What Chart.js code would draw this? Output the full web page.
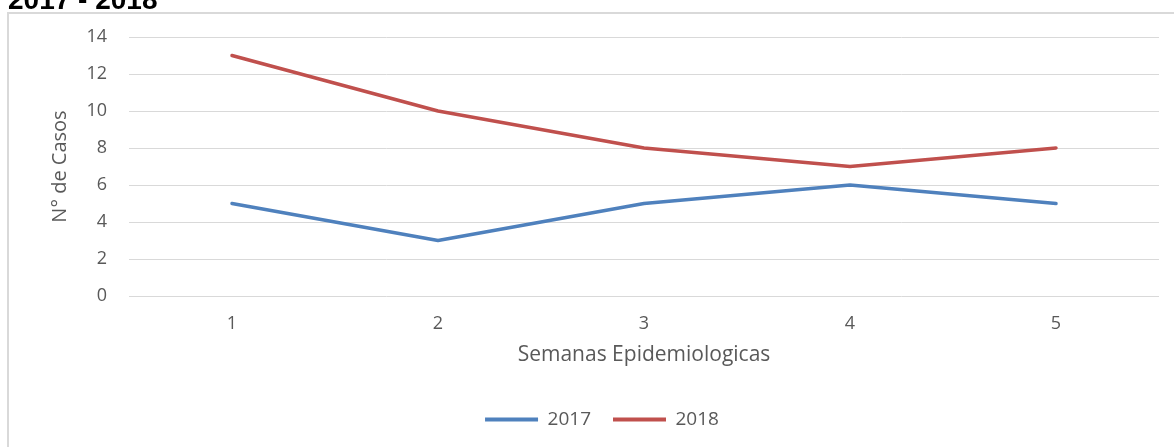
<!DOCTYPE html>
<html>
<head>
<meta charset="utf-8">
<script src="https://cdn.jsdelivr.net/npm/chart.js@4/dist/chart.umd.min.js"></script>
<style>
html,body{margin:0;padding:0;background:#fff;}
#wrap{position:relative;width:1174px;height:447px;}
</style>
</head>
<body>
<div id="wrap"><canvas id="c" width="1174" height="447"></canvas></div>
<script>
const categories = ['1', '2', '3', '4', '5'];
const series2017 = [5, 3, 5, 6, 5];
const series2018 = [13, 10, 8, 7, 8];
const yTicks = [0, 2, 4, 6, 8, 10, 12, 14];
const titleText = '2017 - 2018';
const xTitle = 'Semanas Epidemiologicas';
const yTitle = 'N° de Casos';

const FONT = '"Open Sans", Lato, sans-serif';
const GRAY = '#595959';

const framePlugin = {
  id: 'frame',
  beforeDraw(chart) {
    const ctx = chart.ctx;
    ctx.save();
    ctx.fillStyle = '#fff';
    ctx.fillRect(0, 0, chart.width, chart.height);
    ctx.strokeStyle = '#d9d9d9';
    ctx.lineWidth = 2;
    ctx.beginPath();
    ctx.moveTo(8, 447);
    ctx.lineTo(8, 13);
    ctx.lineTo(1174, 13);
    ctx.stroke();
    ctx.fillStyle = '#000';
    ctx.font = 'bold 28px "Liberation Sans", Arial, sans-serif';
    ctx.textBaseline = 'alphabetic';
    ctx.fillText(titleText, 8, 9);
    ctx.restore();
  }
};

new Chart(document.getElementById('c'), {
  type: 'line',
  data: {
    labels: categories,
    datasets: [
      { label: '2017', data: series2017, borderColor: '#4f81bd', backgroundColor: '#4f81bd',
        borderWidth: 3.5, pointRadius: 0, tension: 0, borderCapStyle: 'round', borderJoinStyle: 'round' },
      { label: '2018', data: series2018, borderColor: '#c0504d', backgroundColor: '#c0504d',
        borderWidth: 3.5, pointRadius: 0, tension: 0, borderCapStyle: 'round', borderJoinStyle: 'round' }
    ]
  },
  options: {
    responsive: false,
    animation: false,
    devicePixelRatio: 1,
    layout: { padding: { left: 45, right: 15, top: 37, bottom: 8 } },
    plugins: {
      title: { display: false },
      tooltip: { enabled: false },
      legend: {
        position: 'bottom',
        labels: {
          boxWidth: 53, boxHeight: 4, padding: 22,
          color: GRAY, font: { family: FONT, size: 19 },
          generateLabels(chart) {
            return chart.data.datasets.map((d, i) => ({
              text: d.label, fillStyle: d.borderColor, strokeStyle: d.borderColor,
              lineWidth: 0, hidden: false, datasetIndex: i, fontColor: GRAY
            }));
          }
        }
      }
    },
    scales: {
      x: {
        offset: true,
        grid: { display: false, drawTicks: false },
        border: { display: false },
        ticks: { color: GRAY, font: { family: FONT, size: 18 }, padding: 17 },
        title: { display: true, text: xTitle, color: GRAY, font: { family: FONT, size: 21 }, padding: { top: 0, bottom: 20 } },
        afterFit(s) { s.height = 92; }
      },
      y: {
        min: 0, max: 14,
        afterBuildTicks(s) { s.ticks = yTicks.map(v => ({ value: v })); },
        grid: { color: '#d9d9d9', lineWidth: 1, drawTicks: false },
        border: { display: false },
        ticks: { color: GRAY, font: { family: FONT, size: 18 }, padding: 22 },
        title: { display: true, text: yTitle, color: GRAY, font: { family: FONT, size: 20 }, padding: { top: 3, bottom: 0 } },
        afterFit(s) { s.width = 84; }
      }
    }
  },
  plugins: [framePlugin]
});
</script>
</body>
</html>
